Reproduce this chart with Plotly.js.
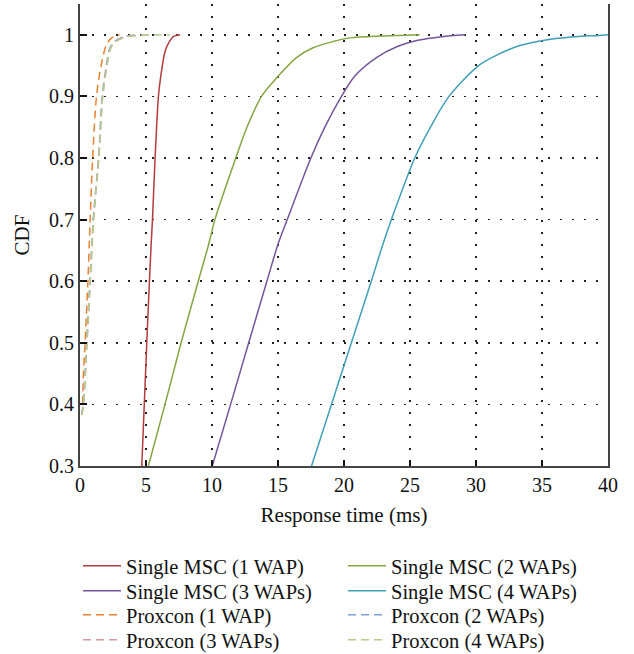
<!DOCTYPE html>
<html>
<head>
<meta charset="utf-8">
<script src="https://cdn.plot.ly/plotly-3.0.1.min.js"></script>
<style>html,body{margin:0;padding:0;background:#fff;}#chart{width:634px;height:654px;}</style>
</head>
<body>
<div id="chart"></div>
<script>
// Single MSC curves
const single1X = [4.68, 4.87, 5.06, 5.26, 5.39, 5.49, 5.69, 5.94, 6.12, 6.44, 6.70, 7.07, 7.58];
const single1Y = [0.30, 0.40, 0.50, 0.60, 0.66, 0.70, 0.80, 0.90, 0.933, 0.973, 0.986, 0.997, 1.0];

const single2X = [5.18, 6.44, 7.66, 8.96, 9.75, 10.22, 11.8, 12.65, 13.75, 15.02, 16.4, 17.66, 19.18, 20.44, 22.96, 25.73];
const single2Y = [0.30, 0.40, 0.50, 0.60, 0.66, 0.70, 0.80, 0.85, 0.90, 0.933, 0.963, 0.979, 0.989, 0.995, 0.998, 1.0];

const single3X = [10.02, 11.41, 12.78, 14.16, 15.0, 15.7, 17.49, 18.55, 19.81, 20.82, 22.46, 24.0, 25.6, 27.4, 29.19];
const single3Y = [0.30, 0.40, 0.50, 0.60, 0.66, 0.70, 0.80, 0.85, 0.90, 0.933, 0.963, 0.9805, 0.991, 0.997, 1.0];

const single4X = [17.54, 19.05, 20.56, 22.07, 22.95, 23.59, 25.36, 26.55, 27.95, 30.2, 31.76, 33.32, 35.4, 37.2, 39.3, 40.0];
const single4Y = [0.30, 0.40, 0.50, 0.60, 0.66, 0.70, 0.80, 0.85, 0.90, 0.95, 0.969, 0.9825, 0.992, 0.9965, 0.999, 1.0];

// Proxcon curves
const prox1X = [0.20, 0.26, 0.39, 0.47, 0.60, 0.77, 0.96, 1.25, 1.60, 2.00, 2.40, 3.00];
const prox1Y = [0.40, 0.45, 0.50, 0.54, 0.60, 0.70, 0.80, 0.90, 0.95, 0.984, 0.995, 1.0];

const prox2X = [0.12, 0.24, 0.50, 0.75, 1.00, 1.40, 1.68, 2.00, 2.25, 2.60, 3.30, 4.20];
const prox2Y = [0.383, 0.40, 0.50, 0.60, 0.70, 0.80, 0.90, 0.951, 0.978, 0.989, 0.997, 1.0];

const prox3X = [0.14, 0.27, 0.53, 0.78, 1.03, 1.43, 1.72, 2.04, 2.30, 2.68, 3.50, 5.50];
const prox3Y = [0.383, 0.40, 0.50, 0.60, 0.70, 0.80, 0.90, 0.951, 0.978, 0.989, 0.997, 1.0];

const prox4X = [0.13, 0.26, 0.52, 0.77, 1.02, 1.42, 1.72, 2.05, 2.32, 2.70, 3.60, 6.80];
const prox4Y = [0.383, 0.40, 0.50, 0.60, 0.70, 0.80, 0.90, 0.951, 0.978, 0.989, 0.997, 1.0];

const names = ['Single MSC (1 WAP)', 'Single MSC (2 WAPs)', 'Single MSC (3 WAPs)', 'Single MSC (4 WAPs)',
               'Proxcon (1 WAP)', 'Proxcon (2 WAPs)', 'Proxcon (3 WAPs)', 'Proxcon (4 WAPs)'];

const FONT = 'Liberation Serif, Times New Roman, serif';
const DASH = '8px,5px';

function tr(x, y, name, color, dash, legend) {
  return {x: x, y: y, name: name, type: 'scatter', mode: 'lines',
          line: {color: color, width: 1.5, dash: dash, shape: 'spline', smoothing: 0.8}, legend: legend};
}

const data = [
  tr(single1X, single1Y, names[0], '#b23c3c', 'solid', 'legend'),
  tr(single2X, single2Y, names[1], '#86a542', 'solid', 'legend2'),
  tr(single3X, single3Y, names[2], '#74559c', 'solid', 'legend3'),
  tr(single4X, single4Y, names[3], '#3f9fb6', 'solid', 'legend4'),
  tr(prox1X, prox1Y, names[4], '#e8822f', DASH, 'legend5'),
  tr(prox2X, prox2Y, names[5], '#7f9fd6', DASH, 'legend6'),
  tr(prox3X, prox3Y, names[6], '#d59aa0', DASH, 'legend7'),
  tr(prox4X, prox4Y, names[7], '#b4cc8c', DASH, 'legend8')
];

// plot area in pixels: x 80..608, y 4..466
function leg(px, py) {
  return {
    orientation: 'v', xref: 'paper', yref: 'paper', xanchor: 'left', yanchor: 'middle',
    x: (px - 80) / 528, y: (466 - py) / 462,
    font: {family: FONT, size: 20.5, color: '#111'}, bgcolor: 'rgba(0,0,0,0)',
    itemwidth: 38, borderwidth: 0
  };
}

const layout = {
  width: 634, height: 654,
  margin: {l: 80, r: 26, t: 4, b: 188, autoexpand: false},
  paper_bgcolor: '#fff', plot_bgcolor: '#fff',
  font: {family: FONT, size: 20, color: '#111'},
  showlegend: true,
  xaxis: {
    range: [0, 40], tick0: 0, dtick: 5, ticks: 'inside', ticklen: 5, tickwidth: 2, tickcolor: '#111',
    showline: true, linecolor: '#444', linewidth: 2, mirror: false,
    showgrid: true, gridcolor: '#222', griddash: '1.5px,10.5px', gridwidth: 1.5,
    zeroline: false, tickfont: {family: FONT, size: 20, color: '#111'},
    title: {text: 'Response time (ms)', font: {family: FONT, size: 21, color: '#111'}, standoff: 12}
  },
  yaxis: {
    range: [0.3, 1.05], tick0: 0.3, dtick: 0.1, ticks: 'inside', ticklen: 7, tickwidth: 2, tickcolor: '#111',
    showline: true, linecolor: '#444', linewidth: 2, mirror: true,
    showgrid: true, gridcolor: '#222', griddash: '1.5px,10.5px', gridwidth: 1.5,
    zeroline: false, tickfont: {family: FONT, size: 20, color: '#111'},
    title: {text: 'CDF', font: {family: FONT, size: 21, color: '#111'}, standoff: 14}
  },
  legend: leg(78, 566),
  legend2: leg(343, 566),
  legend3: leg(78, 591),
  legend4: leg(343, 591),
  legend5: leg(78, 615),
  legend6: leg(343, 615),
  legend7: leg(78, 640),
  legend8: leg(343, 640)
};

Plotly.newPlot('chart', data, layout, {displayModeBar: false, staticPlot: true});
</script>
</body>
</html>
